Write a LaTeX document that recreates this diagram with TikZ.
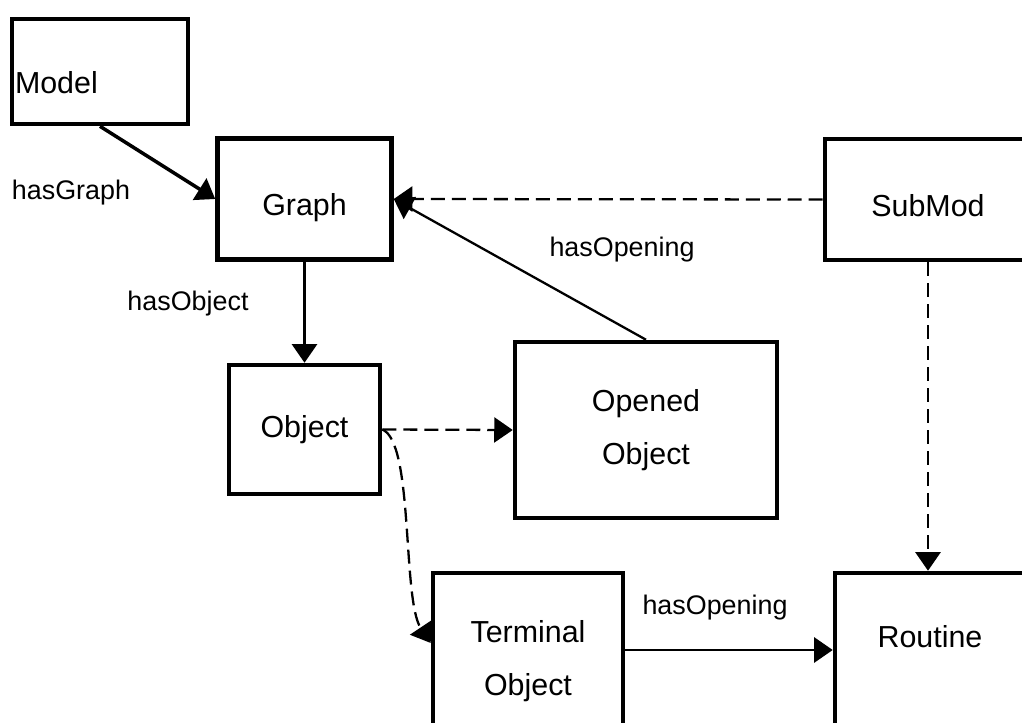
\documentclass[tikz,border=0pt]{standalone}
\usepackage{fontspec}
\setmainfont{Liberation Sans}
\usetikzlibrary{positioning,arrows.meta}

\begin{document}
\begin{tikzpicture}[x=0.02cm, y=-0.02cm,
  block/.style={draw, fill=white, line width=2.6pt, align=center,
    font=\fontsize{17.3pt}{30.5pt}\selectfont},
  lowtext/.style={text height=0.8cm, text depth=0.13cm},
  lbl/.style={inner sep=0pt, font=\fontsize{15.3pt}{18pt}\selectfont},
  rel/.style={line width=1.3pt, -{Triangle[length=0.37cm,width=0.5cm]}},
  dep/.style={rel, dash pattern=on 0.28cm off 0.14cm}]
\clip (0,0) rectangle (1022,723);

\node[block, minimum width=3.52cm, minimum height=2.1cm, text width=3.4cm,
  inner xsep=0.06cm, align=left, text height=0.9cm, text depth=0pt] (model) at (100,71.5) {Model};
\node[block, lowtext, minimum width=3.48cm, minimum height=2.41cm] (graph) at (304.5,199) {Graph};
\node[block, lowtext, minimum width=4.12cm, minimum height=2.42cm] (submod) at (928,199.5) {SubMod};
\node[block, minimum width=3.02cm, minimum height=2.58cm] (object) at (304.5,429.5) {Object};
\node[block, minimum width=5.24cm, minimum height=3.52cm] (opened) at (646,430) {Opened\\Object};
\node[block, minimum width=3.8cm, minimum height=3.52cm] (terminal) at (528,661) {Terminal\\Object};
\node[block, minimum width=3.8cm, minimum height=3.52cm,
  text height=0.44cm, text depth=1cm] (routine) at (930,661) {Routine};

\node[lbl] (hasgraph) at (71,193) {hasGraph};
\node[lbl] (hasobject) at (188,304) {hasObject};
\node[lbl] (hasopening) at (622,250) {hasOpening};
\node[lbl] (hasopening2) at (715,608) {hasOpening};

\draw[rel, line width=2pt] (model.south) -- (graph.west);
\draw[rel] (graph.south) -- (object.north);
\draw[dep] (submod.west) -- (graph.east);
\draw[rel] (opened.north) -- (graph.east);
\draw[dep] (object.east) -- (opened.west);
\draw[dep] (object.east) .. controls (414,442) and (402,600) .. ([yshift=0.36cm]terminal.west);
\draw[rel] ([yshift=0.22cm]terminal.east) -- ([yshift=0.22cm]routine.west);
\draw[dep] (submod.south) -- (submod.south |- routine.north);
\end{tikzpicture}
\end{document}
